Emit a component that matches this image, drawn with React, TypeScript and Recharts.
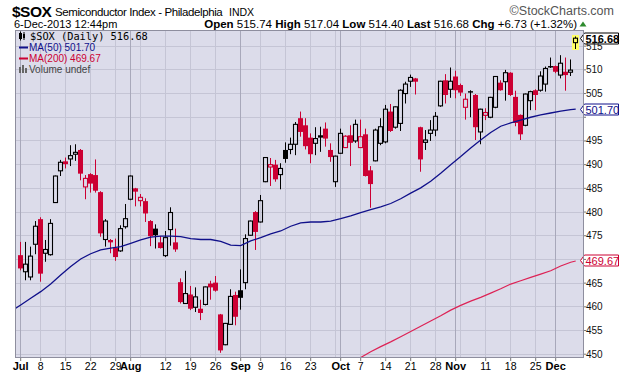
import React from 'react';
import { ComposedChart, Bar, Line, XAxis, YAxis, CartesianGrid, ReferenceLine } from 'recharts';

// $SOX daily candles, Jul 1 .. Dec 6 2013 (trading-day index 0..111)
const OPEN = [
  470.9, 467.4, 466.3, 473.2, 478.5, 471.3, 471.0, 482.0, 488.7, 490.7,
  491.2, 492.2, 493.1, 485.3, 488.0, 487.8, 484.2, 474.2, 474.1, 472.4,
  471.8, 476.9, 482.7, 485.0, 482.4, 482.3, 478.1, 476.5, 473.6, 470.8,
  476.3, 473.6, 465.2, 460.7, 462.6, 459.9, 459.6, 460.5, 464.9, 465.1,
  458.4, 452.0, 456.3, 462.5, 463.5, 465.1, 475.1, 480.0, 477.9, 486.4,
  489.5, 490.0, 487.9, 493.1, 493.2, 494.3, 499.8, 498.3, 495.7, 494.5,
  496.2, 497.6, 493.1, 486.4, 492.4, 493.6, 496.2, 495.0, 493.6, 496.4,
  488.8, 490.8, 494.5, 494.8, 501.2, 497.9, 498.7, 505.0, 507.6, 508.2,
  497.9, 494.7, 496.6, 497.3, 502.4, 507.8, 505.9, 508.6, 506.8, 502.1,
  505.5, 504.7, 496.9, 500.4, 500.0, 502.1, 507.3, 507.5, 509.4, 504.3,
  500.5, 498.3, 503.5, 505.7, 505.7, 507.0, 510.8, 510.8, 508.9, 509.6,
  509.5, 515.74,
];
const HIGH = [
  473.7, 473.7, 472.7, 478.1, 478.9, 474.1, 478.5, 487.7, 491.0, 491.5,
  494.1, 494.3, 493.3, 487.8, 488.2, 491.1, 484.4, 478.5, 474.3, 474.4,
  477.2, 481.7, 487.7, 485.1, 483.8, 482.9, 478.3, 477.4, 474.9, 476.0,
  481.0, 476.5, 466.0, 467.6, 464.4, 464.1, 461.5, 464.3, 465.5, 466.5,
  458.5, 456.6, 463.7, 463.2, 467.9, 475.3, 478.2, 480.2, 483.6, 491.6,
  491.4, 491.0, 490.3, 494.7, 495.7, 499.0, 501.2, 499.8, 496.6, 497.9,
  498.0, 498.9, 494.5, 491.9, 497.6, 496.2, 498.3, 499.5, 499.5, 497.6,
  489.7, 497.6, 499.8, 502.6, 502.8, 502.3, 505.9, 507.5, 509.0, 508.3,
  498.0, 497.3, 499.4, 501.1, 507.7, 509.1, 510.5, 509.8, 507.1, 505.0,
  505.7, 504.9, 501.8, 501.9, 504.3, 508.7, 507.8, 510.0, 509.5, 505.6,
  500.6, 505.0, 505.6, 505.9, 509.7, 510.7, 512.6, 510.9, 513.1, 512.6,
  512.2, 517.04,
];
const LOW = [
  467.7, 465.6, 465.6, 471.1, 465.3, 469.5, 470.8, 481.9, 487.6, 489.2,
  489.7, 490.8, 486.7, 482.7, 484.1, 484.1, 474.8, 472.7, 471.3, 469.7,
  471.6, 476.5, 482.5, 481.2, 481.2, 477.9, 472.8, 472.3, 472.3, 470.5,
  472.9, 471.6, 460.7, 460.6, 459.3, 458.9, 457.2, 460.3, 461.5, 463.2,
  450.3, 451.9, 456.2, 456.1, 459.4, 463.7, 475.0, 472.0, 477.8, 486.3,
  485.5, 486.4, 484.8, 490.4, 492.2, 492.0, 495.9, 493.2, 490.3, 492.0,
  492.7, 493.8, 490.6, 485.3, 492.3, 493.5, 489.7, 494.6, 493.5, 487.5,
  480.9, 490.7, 494.1, 494.5, 496.9, 497.6, 497.1, 502.9, 506.4, 504.8,
  488.5, 493.1, 495.0, 496.0, 502.2, 502.9, 504.1, 504.0, 504.5, 499.5,
  500.0, 495.2, 494.3, 499.4, 499.8, 501.9, 505.6, 503.5, 504.5, 498.1,
  495.2, 498.1, 501.5, 501.5, 505.4, 505.4, 510.4, 509.3, 508.2, 505.6,
  508.7, 514.40,
];
const CLOSE = [
  468.1, 469.0, 470.7, 477.0, 467.0, 472.1, 477.6, 487.6, 490.5, 490.1,
  491.9, 492.6, 488.1, 487.1, 486.0, 484.5, 475.5, 478.1, 473.6, 470.5,
  476.5, 478.6, 487.6, 484.3, 483.1, 479.7, 474.9, 475.1, 472.4, 474.6,
  479.9, 472.1, 461.0, 462.8, 459.6, 462.1, 458.7, 464.2, 464.1, 463.4,
  450.8, 456.5, 462.2, 457.9, 461.9, 474.4, 478.1, 475.8, 482.4, 491.5,
  490.0, 486.9, 489.2, 491.2, 494.3, 498.5, 496.9, 493.9, 492.2, 495.5,
  495.7, 495.5, 491.6, 491.8, 496.6, 496.0, 494.6, 498.5, 495.9, 487.6,
  485.9, 497.3, 498.0, 501.7, 497.1, 502.2, 505.7, 507.0, 508.4, 507.5,
  491.1, 495.2, 497.3, 500.2, 507.6, 504.7, 507.6, 505.7, 505.2, 503.8,
  505.2, 497.9, 501.7, 501.0, 504.2, 508.6, 505.7, 509.4, 504.7, 498.8,
  496.4, 504.9, 505.4, 504.7, 508.7, 510.3, 510.5, 509.6, 511.4, 508.9,
  509.95, 516.68,
];
const PREV_CLOSE = 470.0;

// moving averages: [day index, value]
const MA50 = [
  [-1, 459.7], [0, 460.4], [2, 461.8], [4, 463.2], [6, 464.8], [8, 466.7], [10, 468.5],
  [12, 470.1], [14, 471.2], [16, 472.0], [18, 472.4], [20, 472.7], [22, 473.4], [24, 474.1],
  [26, 474.7], [28, 474.9], [30, 474.9], [32, 474.8], [34, 474.4], [36, 474.2], [38, 474.2],
  [40, 473.8], [42, 473.0], [44, 472.9], [46, 473.9], [48, 474.6], [50, 475.4], [52, 476.0],
  [54, 477.0], [56, 477.7], [58, 477.9], [60, 477.9], [62, 478.1], [64, 478.6], [66, 479.2],
  [68, 479.9], [70, 480.5], [72, 481.1], [74, 481.8], [76, 482.8], [78, 484.0], [80, 485.1],
  [82, 486.5], [84, 488.2], [86, 490.0], [88, 491.7], [90, 493.5], [92, 495.2], [94, 496.8],
  [96, 498.1], [98, 498.8], [100, 499.4], [102, 500.0], [104, 500.5], [106, 500.9],
  [108, 501.3], [110, 501.6], [111, 501.7],
];
const MA200 = [
  [66, 448.2], [68, 449.3], [70, 450.5], [72, 451.6], [74, 452.6], [76, 453.7], [78, 454.8],
  [80, 455.9], [82, 457.0], [84, 458.1], [86, 459.3], [88, 460.3], [90, 461.2], [92, 462.0],
  [94, 462.9], [96, 463.8], [98, 464.8], [100, 465.5], [102, 466.2], [104, 466.9],
  [106, 467.6], [108, 468.6], [110, 469.4], [111, 469.67],
];

const WEEK_LINES = [0, 4, 9, 14, 19, 24, 29, 34, 39, 44, 48, 53, 58, 63, 68, 73, 78, 83, 88, 93, 98, 103, 107];
const MONTH_LINES = [0, 22, 44, 64, 87, 107];
const X_TICKS = [0, 4, 9, 14, 19, 22, 29, 34, 39, 44, 48, 53, 58, 64, 68, 73, 78, 83, 87, 93, 98, 103, 107];
const X_LABELS = ['Jul', '8', '15', '22', '29', 'Aug', '12', '19', '26', 'Sep', '9', '16', '23', 'Oct', '7', '14', '21', '28', 'Nov', '11', '18', '25', 'Dec'];
const Y_TICKS = [450, 455, 460, 465, 470, 475, 480, 485, 490, 495, 500, 505, 510, 515];
// tick labels that sit under the value tags in the original
const Y_HIDDEN = [470, 500];

const X_DOMAIN = [-0.94, 112.46];
const Y_DOMAIN = [449.2, 518.2];

const RED = '#cc0033';
const NAVY = '#10108a';
const MA200_RED = '#dd2255';
const SANS = 'Liberation Sans, Arial, sans-serif';

const rows = CLOSE.map((c, i) => ({
  i,
  o: OPEN[i],
  h: HIGH[i],
  l: LOW[i],
  c,
  prev: i === 0 ? PREV_CLOSE : CLOSE[i - 1],
  range: [LOW[i], HIGH[i]],
  last: i === CLOSE.length - 1,
}));
const ma50Rows = MA50.map(([i, v]) => ({ i, v }));
const ma200Rows = MA200.map(([i, v]) => ({ i, v }));
const labelAt: Record<number, string> = {};
X_TICKS.forEach((t, k) => (labelAt[t] = X_LABELS[k]));

function Candle(props: any) {
  const { x, y, width, height, payload } = props;
  if (!payload || !(height > 0)) return null;
  const { o, h, l, c, prev, last } = payload;
  const cx = Math.floor(x + width / 2) + 0.5;
  const k = height / (h - l);
  const py = (v: number) => y + (h - v) * k;
  const hollow = c >= o;
  const color = c >= prev ? '#000000' : RED;
  const yTop = py(Math.max(o, c));
  const bodyH = Math.max(py(Math.min(o, c)) - yTop, 1);
  const yL = y + height;
  return (
    <g>
      {last && <rect x={cx - 3.5} y={y - 1.5} width={7} height={height + 2.5} fill="#ffff66" />}
      {hollow ? (
        <>
          <line x1={cx} x2={cx} y1={y} y2={yTop} stroke={color} />
          <line x1={cx} x2={cx} y1={yTop + bodyH} y2={yL} stroke={color} />
          <rect x={cx - 2} y={yTop} width={4} height={bodyH} fill="none" stroke={color} strokeWidth={1.1} />
        </>
      ) : (
        <>
          <line x1={cx} x2={cx} y1={y} y2={yL} stroke={color} />
          <rect x={cx - 2.5} y={yTop} width={5} height={bodyH} fill={color} />
        </>
      )}
    </g>
  );
}

function XTick(props: any) {
  const { x, y, payload } = props;
  const label = labelAt[payload.value];
  if (!label) return null;
  const month = /[A-Za-z]/.test(label);
  return (
    <text x={x} y={y + 7} textAnchor="middle" fontFamily={SANS} fontSize={month ? 11 : 10.5}
      fontWeight={month ? 'bold' : 'normal'} fill="#000">
      {label}
    </text>
  );
}

function YTick(props: any) {
  const { x, y, payload } = props;
  if (Y_HIDDEN.includes(payload.value)) return null;
  return (
    <text x={x} y={y + 3.5} fontFamily={SANS} fontSize={10} fill="#111">
      {payload.value}
    </text>
  );
}

function Tag(props: any) {
  const { viewBox, text, color, bold } = props;
  if (!viewBox) return null;
  const ax = viewBox.x + viewBox.width;
  const cy = Math.floor(viewBox.y) + 0.5;
  const d = `M${ax - 2.5},${cy} L${ax + 1.5},${cy - 5.5} L${ax + 35.5},${cy - 5.5} L${ax + 35.5},${cy + 5.5} L${ax + 1.5},${cy + 5.5} Z`;
  return (
    <g>
      <path d={d} fill="#fff" stroke={color} strokeWidth={1} />
      <text x={ax + 2.5} y={cy + 4} fontFamily={SANS} fontSize={11} fontWeight={bold ? 'bold' : 'normal'} fill={color}>
        {text}
      </text>
    </g>
  );
}

// position on an axis: use the axis scale when it is handed over, else the axis domain over the plot box
function axisPos(axis: any, v: number, lo: number, hi: number, start: number, size: number, flip: boolean) {
  const s = axis && axis.scale;
  if (typeof s === 'function') return s(v);
  if (s && typeof s.map === 'function') return s.map(v);
  const t = (v - lo) / (hi - lo);
  return flip ? start + size * (1 - t) : start + size * t;
}
const gridV = (list: number[]) => (p: any) =>
  list.map((i) => Math.floor(axisPos(p.xAxis, i, X_DOMAIN[0], X_DOMAIN[1], p.offset.left, p.offset.width, false)) + 0.5);
const gridH = (p: any) =>
  Y_TICKS.map((v) => Math.floor(axisPos(p.yAxis, v, Y_DOMAIN[0], Y_DOMAIN[1], p.offset.top, p.offset.height, true)) + 0.5);

export default function App() {
  return (
    <div style={{ position: 'absolute', left: 0, top: 0, width: 620, height: 376, background: '#fff', overflow: 'hidden' }}>
      <ComposedChart width={620} height={376} data={rows} margin={{ top: 31, right: 0, bottom: 0, left: 16 }}>
        <CartesianGrid fill="#dcdcea" fillOpacity={1} stroke="#c5c5d5" strokeWidth={1}
          verticalCoordinatesGenerator={gridV(WEEK_LINES)} horizontalCoordinatesGenerator={gridH} />
        <CartesianGrid horizontal={false} stroke="#a8a8ba" strokeWidth={1}
          verticalCoordinatesGenerator={gridV(MONTH_LINES)} />
        <XAxis dataKey="i" type="number" domain={X_DOMAIN} allowDataOverflow ticks={X_TICKS}
          interval={0} height={18} tickSize={3} axisLine={false} tickLine={{ stroke: '#777' }} tick={<XTick />} />
        <YAxis orientation="right" width={37} domain={Y_DOMAIN} allowDataOverflow ticks={Y_TICKS}
          interval={0} tickSize={3} tickMargin={0} axisLine={false} tickLine={{ stroke: '#777' }}
          tick={<YTick />} />
        <Bar dataKey="range" barSize={5} shape={(p: any) => <Candle {...p} />} isAnimationActive={false} />
        <Line data={ma200Rows} dataKey="v" type="linear" stroke={MA200_RED} strokeWidth={1.2} dot={false}
          activeDot={false} isAnimationActive={false} />
        <Line data={ma50Rows} dataKey="v" type="linear" stroke={NAVY} strokeWidth={1.3} dot={false}
          activeDot={false} isAnimationActive={false} />
        <ReferenceLine y={MA200[MA200.length - 1][1]} stroke="none"
          label={<Tag text="469.67" color={RED} />} />
        <ReferenceLine y={MA50[MA50.length - 1][1]} stroke="none"
          label={<Tag text="501.70" color={NAVY} />} />
        <ReferenceLine y={CLOSE[CLOSE.length - 1]} stroke="none"
          label={<Tag text="516.68" color="#000" bold />} />
      </ComposedChart>

      <div style={{ position: 'absolute', left: 15, top: 30, width: 569, height: 328, border: '1px solid #8e8e9e', boxSizing: 'border-box', pointerEvents: 'none' }} />

      <svg width={620} height={376} style={{ position: 'absolute', left: 0, top: 0, pointerEvents: 'none' }}>
        <text x={12} y={16.5} fontFamily={SANS} fontSize={15.5} fontWeight="bold" letterSpacing={-0.5} fill="#000">$SOX</text>
        <text x={55} y={16} fontFamily={SANS} fontSize={11.5} letterSpacing={-0.4} fill="#000">Semiconductor Index - Philadelphia</text>
        <text x={229} y={16} fontFamily={SANS} fontSize={10.5} fill="#000">INDX</text>
        <text x={614} y={15} textAnchor="end" fontFamily={SANS} fontSize={12.5} fill="#555">©StockCharts.com</text>

        <text x={14} y={27.5} fontFamily={SANS} fontSize={11} fill="#000">6-Dec-2013 12:44pm</text>
        <text x={577} y={27.5} textAnchor="end" fontFamily={SANS} fontSize={11.5} fill="#000">
          <tspan fontWeight="bold">Open</tspan> 515.74 <tspan fontWeight="bold">High</tspan> 517.04{' '}
          <tspan fontWeight="bold">Low</tspan> 514.40 <tspan fontWeight="bold">Last</tspan> 516.68{' '}
          <tspan fontWeight="bold">Chg</tspan> +6.73 (+1.32%)
        </text>
        <path d="M579.5,26.5 L586.5,26.5 L583,21.5 Z" fill="#2e8b2e" />

        {/* legend */}
        <g>
          <rect x={19.5} y={33.5} width={2} height={5} fill="none" stroke="#000" strokeWidth={1} />
          <line x1={20.5} x2={20.5} y1={31.5} y2={40.5} stroke="#000" />
          <rect x={23} y={34} width={2} height={4} fill="#000" />
          <line x1={24} x2={24} y1={32} y2={40} stroke="#000" />
          <text x={30} y={40} fontFamily="DejaVu Sans Mono, monospace" fontSize={10.3} fill="#000">$SOX (Daily) 516.68</text>

          <line x1={19} x2={28} y1={47.5} y2={47.5} stroke={NAVY} strokeWidth={2} />
          <text x={29} y={51} fontFamily={SANS} fontSize={10} fill={NAVY}>MA(50) 501.70</text>

          <line x1={19} x2={28} y1={58.5} y2={58.5} stroke={RED} strokeWidth={2} />
          <text x={29} y={62} fontFamily={SANS} fontSize={10} fill={RED}>MA(200) 469.67</text>

          <rect x={19} y={67} width={2} height={6} fill="#666" />
          <rect x={22} y={65} width={2} height={8} fill="#666" />
          <rect x={25} y={68} width={2} height={5} fill="#666" />
          <text x={29} y={73} fontFamily={SANS} fontSize={10} fill="#444">Volume undef</text>
        </g>
      </svg>
    </div>
  );
}
